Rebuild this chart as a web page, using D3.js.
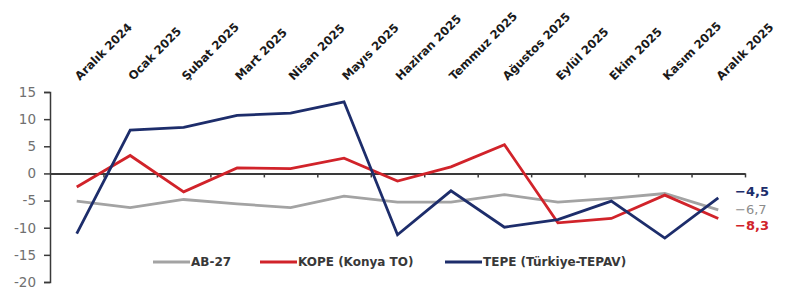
<!DOCTYPE html>
<html lang="tr">
<head>
    <meta charset="UTF-8">
    <title>AB-27 / KOPE / TEPE</title>
    <script src="https://cdn.jsdelivr.net/npm/d3@7"></script>
    <style>
        body{ margin:0; background:#fff; }
        svg{ display:block; font-family:"DejaVu Sans", "Liberation Sans", sans-serif; }
    </style>
</head>
<body>
<svg width="811" height="299"></svg>
<script>
    var months = ["Aralık 2024","Ocak 2025","Şubat 2025","Mart 2025","Nisan 2025","Mayıs 2025",
        "Haziran 2025","Temmuz 2025","Ağustos 2025","Eylül 2025","Ekim 2025","Kasım 2025","Aralık 2025"];

    var ab27 = [-5.1, -6.3, -4.8, -5.6, -6.3, -4.2, -5.3, -5.3, -3.9, -5.3, -4.6, -3.7, -6.7];
    var kope = [-2.5, 3.3, -3.4, 1.0, 0.9, 2.8, -1.4, 1.2, 5.3, -9.1, -8.3, -4.0, -8.3];
    var tepe = [-11.1, 8.0, 8.5, 10.7, 11.1, 13.2, -11.3, -3.2, -9.9, -8.5, -5.1, -11.9, -4.5];

    var yTicks = [-20, -15, -10, -5, 0, 5, 10, 15];

    var series = [
        {name:"AB-27", values:ab27, color:"#a3a3a3", label:"#8c8c8c", bold:false, dy:0, lx:153},
        {name:"KOPE (Konya TO)", values:kope, color:"#d1232a", label:"#d1232a", bold:true, dy:7, lx:260},
        {name:"TEPE (Türkiye-TEPAV)", values:tepe, color:"#1d2d6b", label:"#1d2d6b", bold:true, dy:-6, lx:445}
    ];

    var svg = d3.select("svg");

    var x = d3.scaleBand().domain(months).range([50, 745]);
    var y = d3.scaleLinear().domain([-20, 15]).range([282, 92]);

    // y axis
    var yAxis = svg.append("g")
        .attr("transform", "translate(50,0)")
        .call(d3.axisLeft(y).tickValues(yTicks).tickSize(6).tickPadding(8));
    yAxis.select(".domain").attr("stroke", "#3a3a3a").attr("stroke-width", 1.5);
    yAxis.selectAll(".tick line").attr("stroke", "#3a3a3a").attr("stroke-width", 1.5);
    yAxis.selectAll(".tick text").attr("fill", "#707070").style("font-size", "13.5px")
        .style("font-family", "DejaVu Sans")
        .text(function (d) { return d < 0 ? "-" + Math.abs(d) : d; });

    // x axis on zero line, ticks at category boundaries
    var xb = d3.scaleLinear().domain([0, months.length]).range(x.range());
    var xAxis = svg.append("g")
        .attr("transform", "translate(0," + y(0) + ")")
        .call(d3.axisBottom(xb).tickValues(d3.range(1, months.length + 1)).tickSize(4).tickSizeOuter(0).tickFormat(""));
    xAxis.select(".domain").attr("stroke", "#3a3a3a").attr("stroke-width", 2);
    xAxis.selectAll(".tick line").attr("stroke", "#3a3a3a").attr("stroke-width", 1.5);

    // category labels on top
    svg.append("g").selectAll("text")
        .data(months)
        .enter().append("text")
        .attr("transform", function (d) {
            return "translate(" + (x(d) + x.bandwidth() / 2 + 3) + ",81) rotate(-45)";
        })
        .attr("text-anchor", "start")
        .style("font-size", "11.7px")
        .style("font-weight", "bold")
        .attr("fill", "#1a1a1a")
        .text(function (d) { return d; });

    // lines
    var line = d3.line()
        .x(function (d, i) { return x(months[i]) + x.bandwidth() / 2; })
        .y(function (d) { return y(d); });

    svg.append("g").selectAll("path")
        .data(series)
        .enter().append("path")
        .attr("d", function (d) { return line(d.values); })
        .attr("fill", "none")
        .attr("stroke", function (d) { return d.color; })
        .attr("stroke-width", 2.8);

    // end value labels
    var fmt = function (v) { return d3.format(".1f")(v).replace(".", ","); };
    svg.append("g").selectAll("text")
        .data(series)
        .enter().append("text")
        .attr("x", 735)
        .attr("y", function (d) { return y(d.values[d.values.length - 1]) + d.dy; })
        .attr("dy", "0.35em")
        .style("font-size", "13px")
        .style("font-weight", function (d) { return d.bold ? "bold" : "normal"; })
        .attr("fill", function (d) { return d.label; })
        .text(function (d) { return fmt(d.values[d.values.length - 1]); });

    // legend
    var leg = svg.append("g").selectAll("g")
        .data(series)
        .enter().append("g")
        .attr("transform", function (d) { return "translate(" + d.lx + ",262)"; });
    leg.append("line")
        .attr("x1", 0).attr("x2", 37)
        .attr("stroke", function (d) { return d.color; })
        .attr("stroke-width", 3);
    leg.append("text")
        .attr("x", 38)
        .attr("dy", "0.35em")
        .style("font-size", "12px")
        .style("font-weight", "bold")
        .attr("fill", "#383838")
        .text(function (d) { return d.name; });
</script>
</body>
</html>
